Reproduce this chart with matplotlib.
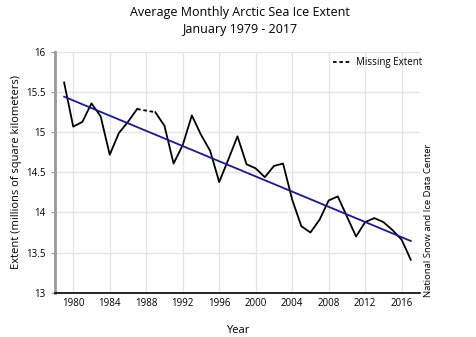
import numpy as np
import matplotlib.pyplot as plt

plt.rcParams['font.family'] = ['Open Sans', 'DejaVu Sans']

# January extent, millions of km^2 (1988 missing)
years = list(range(1979, 2018))
extent = [15.62, 15.07, 15.13, 15.36, 15.20, 14.72, 14.99, 15.13, 15.29, None,
          15.25, 15.08, 14.61, 14.84, 15.21, 14.97, 14.77, 14.38, 14.66, 14.95,
          14.60, 14.55, 14.44, 14.58, 14.61, 14.16, 13.83, 13.75, 13.91, 14.15,
          14.20, 13.95, 13.70, 13.88, 13.93, 13.88, 13.78, 13.66, 13.41]
yticks = [13, 13.5, 14, 14.5, 15, 15.5, 16]
ytick_labels = ['13', '13.5', '14', '14.5', '15', '15.5', '16']
xticks = [1980, 1984, 1988, 1992, 1996, 2000, 2004, 2008, 2012, 2016]

yrs = np.array(years, dtype=float)
ext = np.array([np.nan if v is None else v for v in extent])
ok = ~np.isnan(ext)

fig = plt.figure(figsize=(4.77, 3.37), dpi=100)
ax = fig.add_axes([0.1153, 0.1315, 0.765, 0.714])

# dashed bridge over the missing year
gap = np.where(~ok)[0][0]
ax.plot(yrs[[gap - 1, gap + 1]], ext[[gap - 1, gap + 1]], color='black',
        lw=1.3, ls=(0, (2, 1.5)), label='Missing Extent')
ax.plot(yrs, ext, color='black', lw=1.3)

# linear trend
slope, icpt = np.polyfit(yrs[ok], ext[ok], 1)
ax.plot(yrs[[0, -1]], slope * yrs[[0, -1]] + icpt, color='#1a1a8c', lw=1.3)

ax.set_xlim(1978, 2018)
ax.set_ylim(13, 16)
ax.set_yticks(yticks)
ax.set_yticklabels(ytick_labels)
ax.set_xticks(xticks)
ax.grid(True, color='#e4e4e4', lw=0.9)
ax.set_axisbelow(True)
ax.tick_params(axis='both', labelsize=7, length=0, pad=4)
ax.tick_params(axis='y', length=3, color='#999999', direction='out')

for s in ['top', 'right']:
    ax.spines[s].set_visible(False)
ax.spines['left'].set_color('#999999')
ax.spines['left'].set_linewidth(2)
ax.spines['bottom'].set_color('black')
ax.spines['bottom'].set_linewidth(1.2)

ax.set_xlabel('Year', fontsize=8)
ax.set_ylabel('Extent (millions of square kilometers)', fontsize=8)
ax.xaxis.set_label_coords(0.5, -0.133)
ax.yaxis.set_label_coords(-0.09, 0.5)

fig.text(0.503, 0.963, 'Average Monthly Arctic Sea Ice Extent', ha='center',
         va='center', fontsize=9)
fig.text(0.503, 0.912, 'January 1979 - 2017', ha='center', va='center',
         fontsize=9)
fig.text(0.898, 0.345, 'National Snow and Ice Data Center', rotation=90,
         ha='center', va='center', fontsize=6.8)

ax.legend(loc='upper right', bbox_to_anchor=(1.03, 1.015), frameon=False,
          fontsize=7, handlelength=1.8, handletextpad=0.6)

fig.savefig('out.png', dpi=100)
